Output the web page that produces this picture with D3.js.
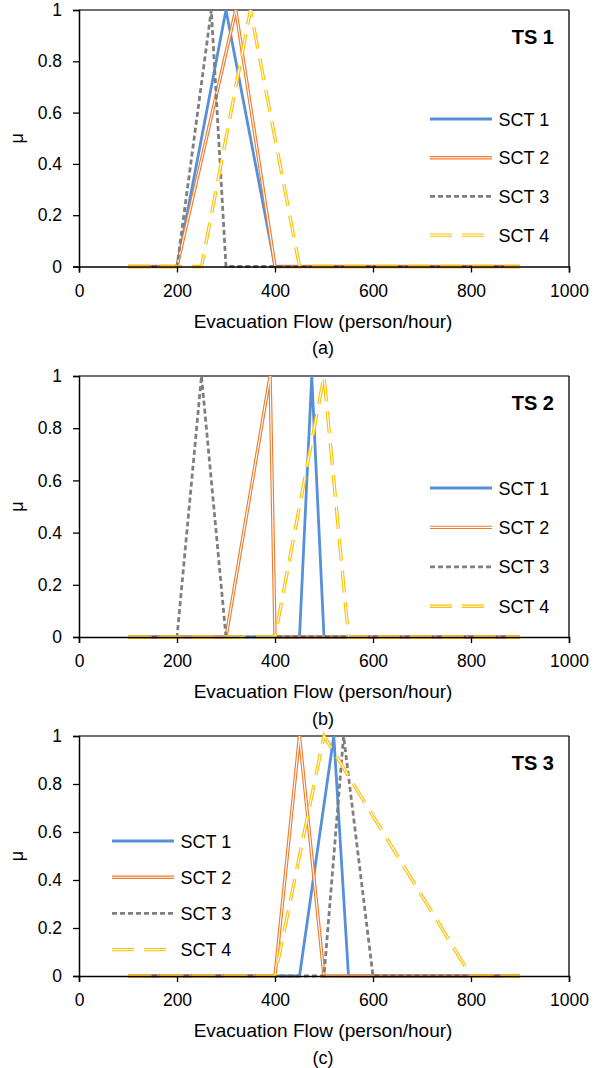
<!DOCTYPE html>
<html>
<head>
<meta charset="utf-8">
<title>Membership functions</title>
<script src="https://d3js.org/d3.v7.min.js"></script>
<style>
  body { margin: 0; background: #fff; }
  text { font-family: "Liberation Sans", Arial, sans-serif; fill: #000; }
</style>
</head>
<body>
<svg width="594" height="1068"></svg>
<script>
// series names and the triangle corners (start, peak, end) for each time slot
var series = ["SCT 1", "SCT 2", "SCT 3", "SCT 4"];
var ts1 = [[200, 300, 400], [200, 320, 400], [200, 270, 300], [250, 350, 450]];
var ts2 = [[450, 475, 500], [300, 390, 400], [200, 250, 300], [400, 500, 550]];
var ts3 = [[450, 520, 550], [400, 450, 500], [500, 540, 600], [400, 500, 800]];
var xMin = 100, xMax = 900;
var xTicks = [0, 200, 400, 600, 800, 1000];
var yTicks = [0, 0.2, 0.4, 0.6, 0.8, 1];

var panels = [
  { name: "TS 1", tag: "(a)", data: ts1, top: 10, bottom: 266.5, legendX: 430, legendY: 119, gap: 38.7 },
  { name: "TS 2", tag: "(b)", data: ts2, top: 376, bottom: 637, legendX: 430, legendY: 488, gap: 39.4 },
  { name: "TS 3", tag: "(c)", data: ts3, top: 736, bottom: 976, legendX: 112, legendY: 841, gap: 36.2 }
];

// line looks, Excel-ish
var styles = [
  { color: "#5590d9", width: 2.8, dash: null, dbl: false },
  { color: "#ed7d31", width: 3.4, dash: null, dbl: true },
  { color: "#7f7f7f", width: 2.8, dash: "5,3", dbl: false },
  { color: "#ffc000", width: 3.4, dash: "22,10", dbl: true }
];

var svg = d3.select("svg");
var left = 79, right = 569;

var x = d3.scaleLinear().domain([0, 1000]).range([left, right]);

function points(t) {
  return [[xMin, 0], [t[0], 0], [t[1], 1], [t[2], 0], [xMax, 0]];
}

function drawLine(g, pts, s, line) {
  g.append("path").datum(pts)
    .attr("d", line).attr("fill", "none")
    .attr("stroke", s.color).attr("stroke-width", s.width)
    .attr("stroke-dasharray", s.dash);
  if (s.dbl) {
    g.append("path").datum(pts)
      .attr("d", line).attr("fill", "none")
      .attr("stroke", "#fff").attr("stroke-width", 1.1)
      .attr("stroke-dasharray", s.dash);
  }
}

panels.forEach(function (p) {
  var y = d3.scaleLinear().domain([0, 1]).range([p.bottom, p.top]);
  var g = svg.append("g");

  // frame top / right
  g.append("line").attr("x1", left).attr("x2", right).attr("y1", p.top).attr("y2", p.top)
    .attr("stroke", "#404040").attr("stroke-width", 1.3);
  g.append("line").attr("x1", right).attr("x2", right).attr("y1", p.top).attr("y2", p.bottom)
    .attr("stroke", "#000").attr("stroke-width", 1.3);

  var line = d3.line().x(function (d) { return x(d[0]); }).y(function (d) { return y(d[1]); });

  p.data.forEach(function (t, i) {
    drawLine(g, points(t), styles[i], line);
  });

  // axes
  var xa = g.append("g").attr("transform", "translate(0," + p.bottom + ")")
    .call(d3.axisBottom(x).tickValues(xTicks).tickSize(6).tickPadding(12).tickFormat(d3.format("d")));
  var ya = g.append("g").attr("transform", "translate(" + left + ",0)")
    .call(d3.axisLeft(y).tickValues(yTicks).tickSize(6).tickPadding(11).tickFormat(function (d) { return String(+d.toFixed(1)); }));
  [xa, ya].forEach(function (a) {
    a.select(".domain").attr("stroke", "#000").attr("stroke-width", 1.5);
    a.selectAll(".tick line").attr("stroke", "#000").attr("stroke-width", 1.3);
    a.selectAll(".tick text").attr("font-size", 17.5).attr("fill", "#000")
      .style("font-family", '"Liberation Sans", Arial, sans-serif');
  });

  // panel label
  g.append("text").attr("x", 554).attr("y", p.top + 34).attr("text-anchor", "end")
    .attr("font-size", 20).attr("font-weight", "bold").text(p.name);

  // legend
  series.forEach(function (name, i) {
    var ly = p.legendY + i * p.gap;
    var lp = [[0, 0], [62, 0]];
    var ll = d3.line().x(function (d) { return p.legendX + d[0]; }).y(function () { return ly; });
    drawLine(g, lp, styles[i], ll);
    g.append("text").attr("x", p.legendX + 68.5).attr("y", ly + 6.5)
      .attr("font-size", 18).text(name);
  });

  // titles
  g.append("text").attr("x", (left + right) / 2 - 1).attr("y", p.bottom + 61)
    .attr("text-anchor", "middle").attr("font-size", 19).text("Evacuation Flow (person/hour)");
  g.append("text").attr("x", (left + right) / 2 - 1).attr("y", p.bottom + 87.5)
    .attr("text-anchor", "middle").attr("font-size", 18).text(p.tag);
  g.append("text").attr("transform", "translate(23," + ((p.top + p.bottom) / 2) + ") rotate(-90)")
    .attr("text-anchor", "middle").attr("font-size", 18).text("μ");
});
</script>
</body>
</html>
